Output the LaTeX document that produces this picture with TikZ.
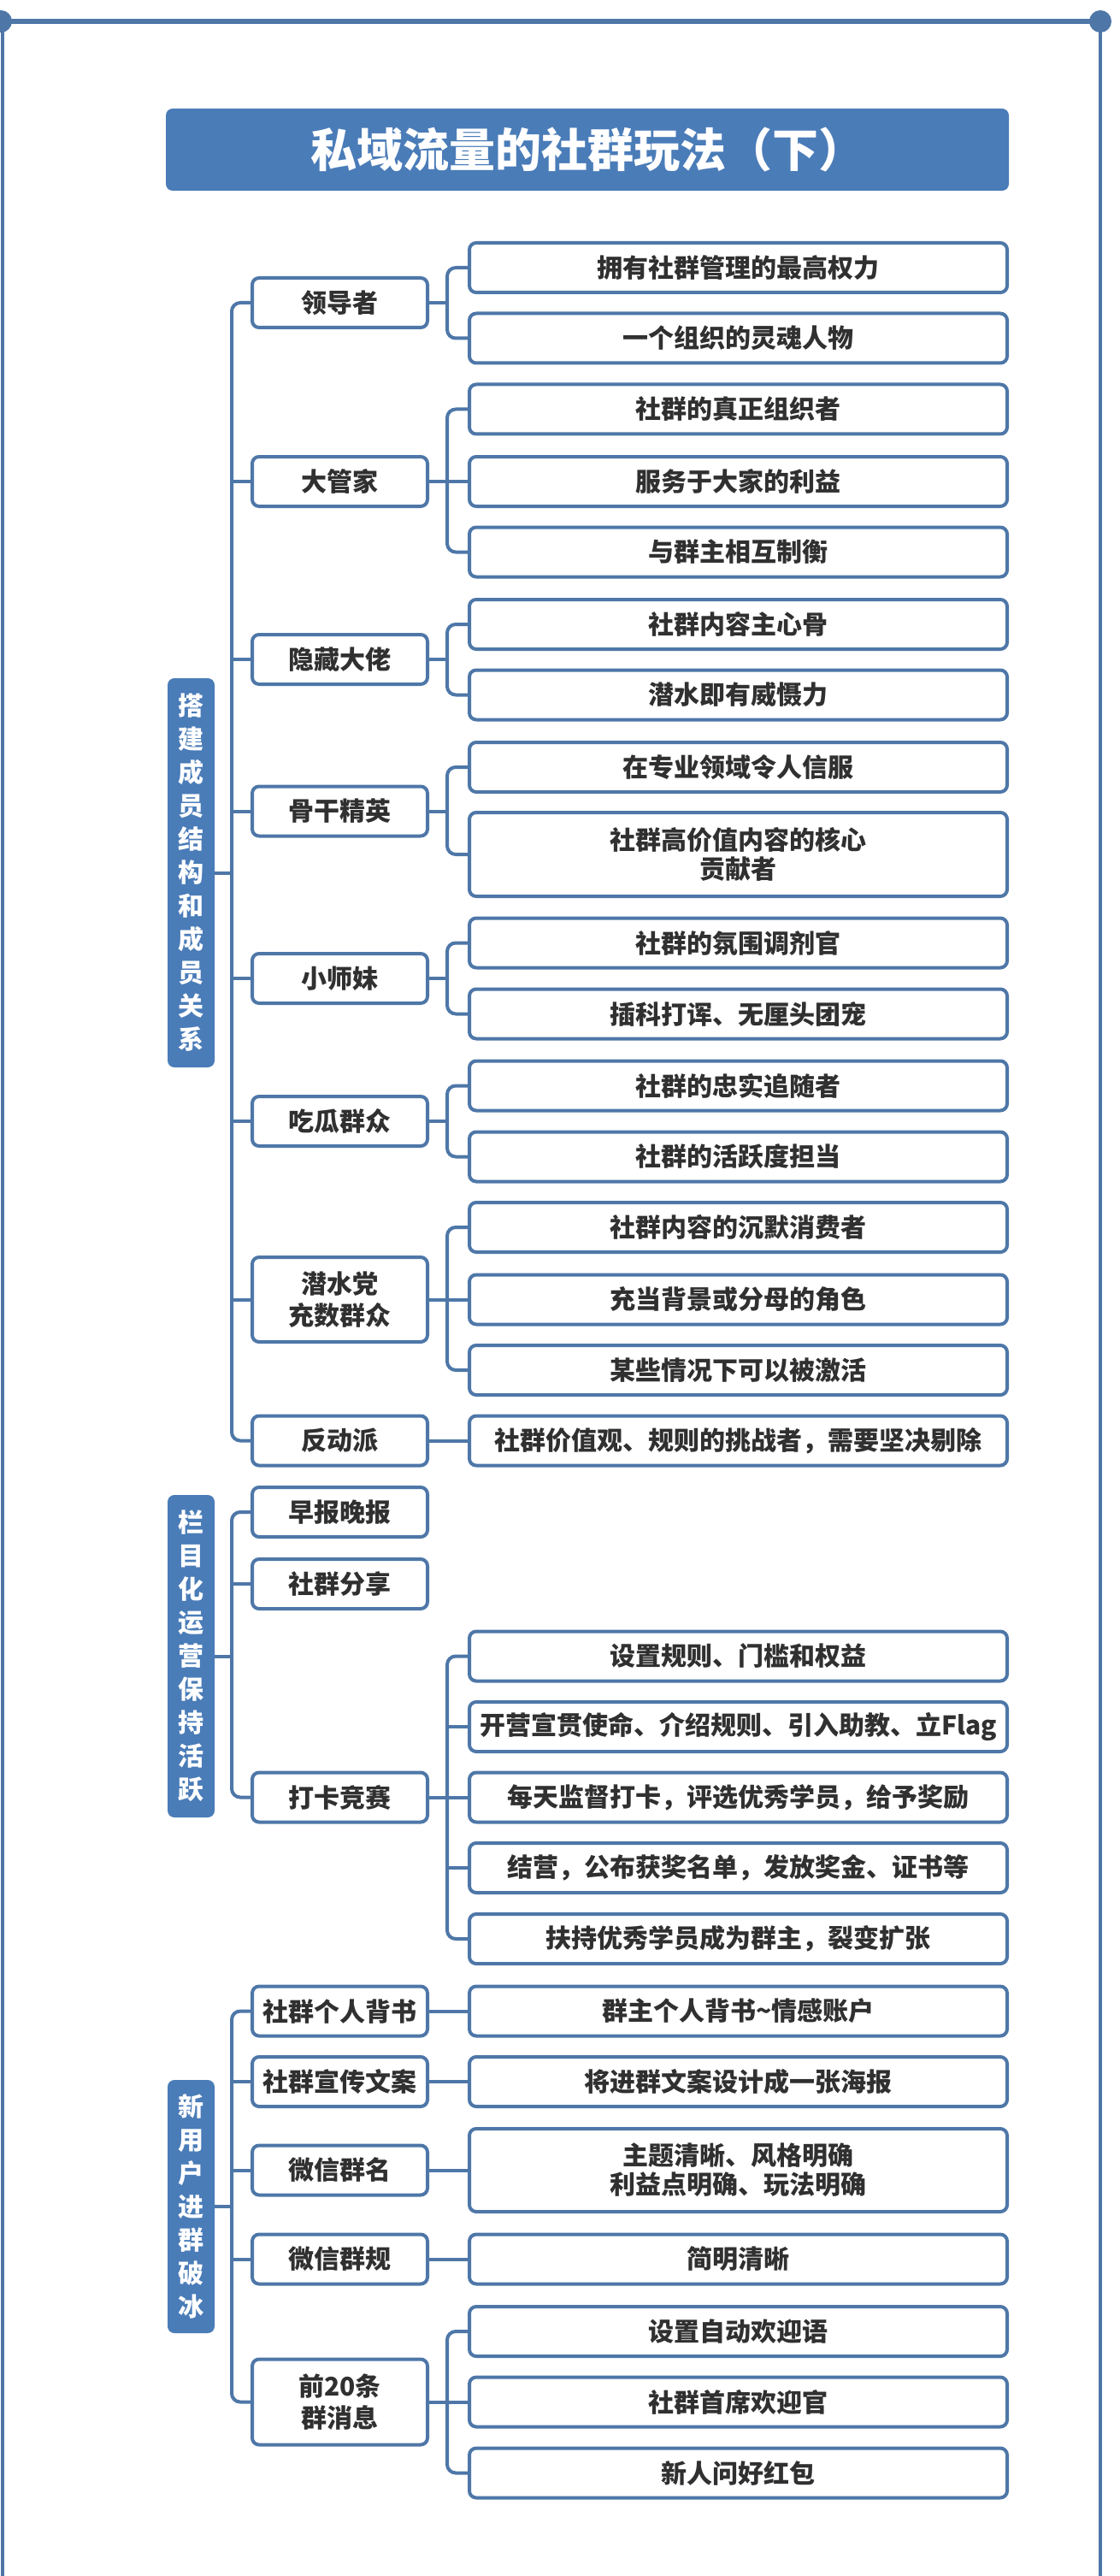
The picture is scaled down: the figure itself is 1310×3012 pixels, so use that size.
\documentclass[tikz,border=0pt]{standalone}
\usepackage{fontspec}
\setmainfont{Noto Sans CJK SC}
\definecolor{mapblue}{RGB}{74,124,184}
\definecolor{linkblue}{RGB}{78,119,168}
\definecolor{inkgray}{RGB}{48,48,48}
\begin{document}
\begin{tikzpicture}[x=0.5pt,y=-0.5pt,
  leaf/.style={draw=linkblue,line width=2pt,rounded corners=4pt,fill=white,
    minimum width=314.5pt,minimum height=29pt,inner sep=0pt,align=center,
    text=inkgray,font=\fontsize{15}{17}\selectfont\bfseries},
  branch/.style={leaf,minimum width=102.5pt,font=\fontsize{15}{18.5}\selectfont\bfseries},
  topic/.style={fill=mapblue,rounded corners=4pt,minimum width=27.5pt,inner sep=0pt,
    align=center,text=white,font=\fontsize{15}{19.5}\selectfont\bfseries},
  link/.style={draw=linkblue,line width=2pt,rounded corners=5pt}]
\useasboundingbox (0,0) rectangle (1310,3012);
\fill[white] (0,0) rectangle (1310,3012);
% frame
\draw[linkblue,line width=3pt] (0,25) -- (1287,25);
\draw[linkblue,line width=2pt] (3,25) -- (3,3012);
\draw[linkblue,line width=2pt] (1287,25) -- (1287,3012);
\fill[linkblue] (1,25) circle (6.5pt);
\fill[linkblue] (1287,25) circle (6.5pt);
% title
\node[fill=mapblue,rounded corners=4pt,minimum width=493pt,minimum height=48pt,
  text=white,font=\fontsize{27}{30}\selectfont\bfseries] (title) at (687,175) {私域流量的社群玩法（下）};
% topics
\node[topic,minimum height=227.5pt] (build) at (223.5,1020.5) {搭\\建\\成\\员\\结\\构\\和\\成\\员\\关\\系};
\node[topic,minimum height=188.5pt] (column) at (223.5,1936.5) {栏\\目\\化\\运\\营\\保\\持\\活\\跃};
\node[topic,minimum height=148pt] (icebreak) at (223.5,2580) {新\\用\\户\\进\\群\\破\\冰};
% roles
\node[branch] (lead) at (397.5,354) {领导者};
\node[branch] (steward) at (397.5,563) {大管家};
\node[branch] (hidden) at (397.5,771) {隐藏大佬};
\node[branch] (core) at (397.5,948.5) {骨干精英};
\node[branch] (junior) at (397.5,1144) {小师妹};
\node[branch] (onlooker) at (397.5,1311) {吃瓜群众};
\node[branch,minimum height=49.5pt] (lurker) at (397.5,1519.5) {潜水党\\充数群众};
\node[branch] (rebel) at (397.5,1684.5) {反动派};
\node[branch] (news) at (397.5,1768) {早报晚报};
\node[branch] (share) at (397.5,1852) {社群分享};
\node[branch] (checkin) at (397.5,2101.5) {打卡竞赛};
\node[branch] (endorse) at (397.5,2351.5) {社群个人背书};
\node[branch] (slogan) at (397.5,2434) {社群宣传文案};
\node[branch] (gname) at (397.5,2537.5) {微信群名};
\node[branch] (grules) at (397.5,2641.5) {微信群规};
\node[branch,minimum height=50pt] (first20) at (397.5,2808.5) {前20条\\群消息};
% details
\node[leaf] (lead1) at (863.5,313) {拥有社群管理的最高权力};
\node[leaf] (lead2) at (863.5,395.5) {一个组织的灵魂人物};
\node[leaf] (stew1) at (863.5,478.5) {社群的真正组织者};
\node[leaf] (stew2) at (863.5,563) {服务于大家的利益};
\node[leaf] (stew3) at (863.5,645.5) {与群主相互制衡};
\node[leaf] (hid1) at (863.5,730) {社群内容主心骨};
\node[leaf] (hid2) at (863.5,812.5) {潜水即有威慑力};
\node[leaf] (core1) at (863.5,897) {在专业领域令人信服};
\node[leaf,minimum height=49pt] (core2) at (863.5,999) {社群高价值内容的核心\\贡献者};
\node[leaf] (jun1) at (863.5,1102.5) {社群的氛围调剂官};
\node[leaf] (jun2) at (863.5,1185.5) {插科打诨、无厘头团宠};
\node[leaf] (onl1) at (863.5,1269.5) {社群的忠实追随者};
\node[leaf] (onl2) at (863.5,1352.5) {社群的活跃度担当};
\node[leaf] (lurk1) at (863.5,1435) {社群内容的沉默消费者};
\node[leaf] (lurk2) at (863.5,1519.5) {充当背景或分母的角色};
\node[leaf] (lurk3) at (863.5,1602) {某些情况下可以被激活};
\node[leaf] (reb1) at (863.5,1684.5) {社群价值观、规则的挑战者，需要坚决剔除};
\node[leaf] (chk1) at (863.5,1936.5) {设置规则、门槛和权益};
\node[leaf] (chk2) at (863.5,2019) {开营宣贯使命、介绍规则、引入助教、立Flag};
\node[leaf] (chk3) at (863.5,2101.5) {每天监督打卡，评选优秀学员，给予奖励};
\node[leaf] (chk4) at (863.5,2184) {结营，公布获奖名单，发放奖金、证书等};
\node[leaf] (chk5) at (863.5,2267) {扶持优秀学员成为群主，裂变扩张};
\node[leaf] (end1) at (863.5,2351.5) {群主个人背书\textasciitilde 情感账户};
\node[leaf] (slo1) at (863.5,2434) {将进群文案设计成一张海报};
\node[leaf,minimum height=48.5pt] (gn1) at (863.5,2537.5) {主题清晰、风格明确\\利益点明确、玩法明确};
\node[leaf] (gr1) at (863.5,2641.5) {简明清晰};
\node[leaf] (f201) at (863.5,2726) {设置自动欢迎语};
\node[leaf] (f202) at (863.5,2808.5) {社群首席欢迎官};
\node[leaf] (f203) at (863.5,2891.5) {新人问好红包};
% trunks
\coordinate (b1) at (271,0);
\coordinate (b2) at (523,0);
\draw[link] (build.east) -- (build.east -| b1);
\draw[link] (lead.west) -| (rebel.west -| b1) -- (rebel.west);
\foreach \c in {steward,hidden,core,junior,onlooker,lurker}
  \draw[link] (\c.west -| b1) -- (\c.west);
\draw[link] (column.east) -- (column.east -| b1);
\draw[link] (news.west) -| (checkin.west -| b1) -- (checkin.west);
\draw[link] (share.west -| b1) -- (share.west);
\draw[link] (icebreak.east) -- (icebreak.east -| b1);
\draw[link] (endorse.west) -| (first20.west -| b1) -- (first20.west);
\foreach \c in {slogan,gname,grules}
  \draw[link] (\c.west -| b1) -- (\c.west);
% branches
\foreach \p/\a/\z in {lead/lead1/lead2,steward/stew1/stew3,hidden/hid1/hid2,core/core1/core2,
    junior/jun1/jun2,onlooker/onl1/onl2,lurker/lurk1/lurk3,checkin/chk1/chk5,first20/f201/f203}{
  \draw[link] (\p.east) -- (\p.east -| b2);
  \draw[link] (\a.west) -| (\z.west -| b2) -- (\z.west);
}
\foreach \c in {stew2,lurk2,chk2,chk3,chk4,f202}
  \draw[link] (\c.west -| b2) -- (\c.west);
\foreach \p/\c in {rebel/reb1,endorse/end1,slogan/slo1,gname/gn1,grules/gr1}
  \draw[link] (\p.east) -- (\c.west);
\end{tikzpicture}
\end{document}
